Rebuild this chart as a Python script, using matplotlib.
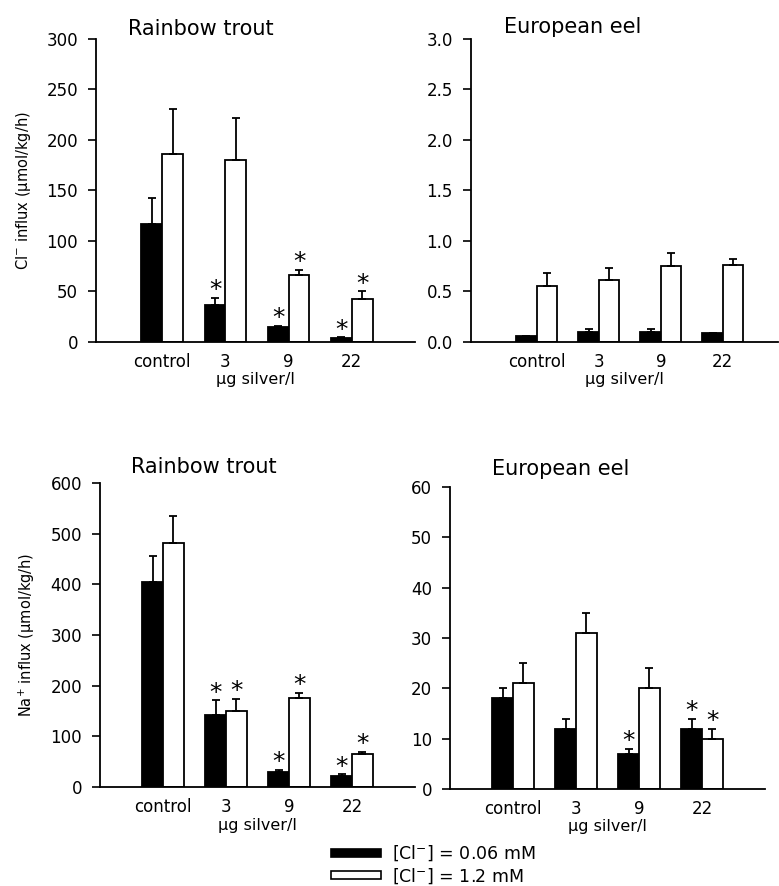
import numpy as np
import matplotlib
matplotlib.use("Agg")
import matplotlib.pyplot as plt
from matplotlib.patches import Patch

plt.rcParams['font.family'] = ['DejaVu Sans']
plt.rcParams['mathtext.fontset'] = 'dejavusans'

groups = ["control", "3", "9", "22"]

# Cl- influx, rainbow trout
cl_trout_low = [117, 37, 15, 4]
cl_trout_low_err = [26, 7, 1, 0.5]
cl_trout_high = [186, 180, 66, 43]
cl_trout_high_err = [45, 42, 5, 7]
cl_trout_star_low = [False, True, True, True]
cl_trout_star_high = [False, False, True, True]

# Cl- influx, european eel
cl_eel_low = [0.056, 0.096, 0.10, 0.086]
cl_eel_low_err = [0.005, 0.03, 0.025, 0.005]
cl_eel_high = [0.555, 0.617, 0.752, 0.766]
cl_eel_high_err = [0.13, 0.12, 0.13, 0.06]
cl_eel_star_low = [False, False, False, False]
cl_eel_star_high = [False, False, False, False]

# Na+ influx, rainbow trout
na_trout_low = [405, 143, 30, 22]
na_trout_low_err = [50, 28, 3, 3]
na_trout_high = [481, 150, 176, 65]
na_trout_high_err = [53, 24, 10, 4]
na_trout_star_low = [False, True, True, True]
na_trout_star_high = [False, True, True, True]

# Na+ influx, european eel
na_eel_low = [18, 12, 7, 12]
na_eel_low_err = [2, 2, 1, 2]
na_eel_high = [21, 31, 20, 10]
na_eel_high_err = [4, 4, 4, 2]
na_eel_star_low = [False, False, True, True]
na_eel_star_high = [False, False, False, True]

W = 0.33


def draw_panel(ax, low, low_err, high, high_err, star_low, star_high,
               title, ymax, yticks, ticklabels, xlim, title_x, title_pad):
    x = np.arange(len(groups))
    ax.bar(x - W / 2, low, W, color='black', edgecolor='black', linewidth=1.3,
           yerr=[np.zeros(len(low)), low_err], capsize=3,
           error_kw=dict(elinewidth=1.3, capthick=1.3, ecolor='black'))
    ax.bar(x + W / 2, high, W, color='white', edgecolor='black', linewidth=1.3,
           yerr=[np.zeros(len(high)), high_err], capsize=3,
           error_kw=dict(elinewidth=1.3, capthick=1.3, ecolor='black'))
    for i in range(len(groups)):
        if star_low[i]:
            ax.annotate('*', (x[i] - W / 2, low[i] + low_err[i]), xytext=(0, -3),
                        textcoords='offset points', ha='center', va='bottom',
                        fontsize=18)
        if star_high[i]:
            ax.annotate('*', (x[i] + W / 2, high[i] + high_err[i]), xytext=(0, -3),
                        textcoords='offset points', ha='center', va='bottom',
                        fontsize=18)
    ax.set_xlim(*xlim)
    ax.set_ylim(0, ymax)
    ax.set_yticks(yticks)
    ax.set_yticklabels(ticklabels)
    ax.set_xticks(x)
    ax.set_xticklabels(groups)
    ax.tick_params(axis='x', length=0, pad=8, labelsize=12)
    ax.tick_params(axis='y', direction='out', length=6, width=1.2, labelsize=12, pad=7)
    for s in ['top', 'right']:
        ax.spines[s].set_visible(False)
    for s in ['left', 'bottom']:
        ax.spines[s].set_linewidth(1.3)
    ax.set_xlabel('µg silver/l', fontsize=11.5, labelpad=1)
    ax.annotate(title, (title_x, 1.0), xycoords='axes fraction',
                xytext=(0, title_pad), textcoords='offset points',
                fontsize=15, ha='center', va='baseline')


fig = plt.figure(figsize=(7.79, 8.86), dpi=100)

ax1 = fig.add_axes([0.1232, 0.614, 0.4095, 0.342])
ax2 = fig.add_axes([0.6046, 0.614, 0.3941, 0.342])
ax3 = fig.add_axes([0.1284, 0.1117, 0.4043, 0.3432])
ax4 = fig.add_axes([0.5777, 0.1095, 0.4043, 0.3408])

draw_panel(ax1, cl_trout_low, cl_trout_low_err, cl_trout_high, cl_trout_high_err,
           cl_trout_star_low, cl_trout_star_high, 'Rainbow trout', 300,
           [0, 50, 100, 150, 200, 250, 300],
           ['0', '50', '100', '150', '200', '250', '300'], (-1.05, 4.0), 0.33, 3)
draw_panel(ax2, cl_eel_low, cl_eel_low_err, cl_eel_high, cl_eel_high_err,
           cl_eel_star_low, cl_eel_star_high, 'European eel', 3.0,
           [0, 0.5, 1.0, 1.5, 2.0, 2.5, 3.0],
           ['0.0', '0.5', '1.0', '1.5', '2.0', '2.5', '3.0'], (-1.06, 3.89), 0.33, 4.5)
draw_panel(ax3, na_trout_low, na_trout_low_err, na_trout_high, na_trout_high_err,
           na_trout_star_low, na_trout_star_high, 'Rainbow trout', 600,
           [0, 100, 200, 300, 400, 500, 600],
           ['0', '100', '200', '300', '400', '500', '600'], (-1.0, 4.0), 0.33, 7.5)
draw_panel(ax4, na_eel_low, na_eel_low_err, na_eel_high, na_eel_high_err,
           na_eel_star_low, na_eel_star_high, 'European eel', 60,
           [0, 10, 20, 30, 40, 50, 60],
           ['0', '10', '20', '30', '40', '50', '60'], (-1.0, 4.0), 0.35, 9)

ax1.set_ylabel('Cl$^{-}$ influx (µmol/kg/h)', fontsize=10.5)
ax3.set_ylabel('Na$^{+}$ influx (µmol/kg/h)', fontsize=10.5)
ax1.yaxis.set_label_coords(-0.197, 0.5)
ax3.yaxis.set_label_coords(-0.2, 0.5)

handles = [Patch(facecolor='black', edgecolor='black', linewidth=1.2),
           Patch(facecolor='white', edgecolor='black', linewidth=1.2)]
fig.legend(handles, ['[Cl$^{-}$] = 0.06 mM', '[Cl$^{-}$] = 1.2 mM'],
           loc='center', bbox_to_anchor=(0.556, 0.024), frameon=False,
           fontsize=12.5, handlelength=2.9, handleheight=0.4, labelspacing=0.15,
           handletextpad=0.6)

fig.savefig('out.png', dpi=100)
